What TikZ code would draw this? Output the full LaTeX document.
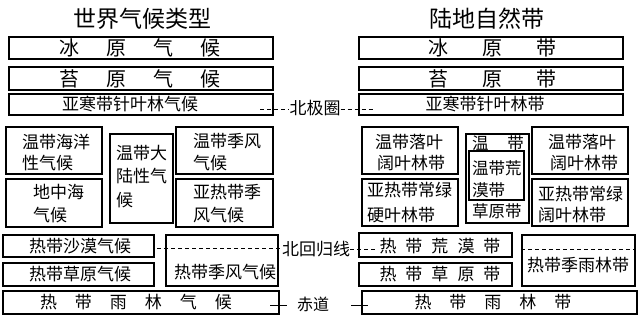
\documentclass[tikz,border=0pt]{standalone}
\usepackage{fontspec}
\newfontfamily\cjk{Noto Sans CJK SC}
\usetikzlibrary{fit,calc}
\begin{document}
\begin{tikzpicture}[x=1pt,y=-1pt,
  box/.style={draw, line width=1.1pt, inner sep=0pt},
  tx/.style={inner sep=0pt, font=\cjk\fontsize{17}{22}\selectfont},
  ml/.style={tx, align=left, anchor=west},
  big/.style={inner sep=0pt, font=\cjk\fontsize{20}{24}\selectfont},
  ttl/.style={inner sep=0pt, font=\cjk\fontsize{23}{28}\selectfont},
  lat/.style={line width=0.8pt, dash pattern=on 4pt off 3pt},
  eq/.style={line width=0.8pt}]
\useasboundingbox[fill=white] (0,0) rectangle (640,316);

% titles
\node[ttl] (t1) at (142,19) {世界气候类型};
\node[ttl] (t2) at (487,19) {陆地自然带};

% left column
\node[box, fit={(9,37) (273,59)}] (L1) {};
\node[big] (L1t) at (140,48) {冰\hspace{27pt}原\hspace{27pt}气\hspace{27pt}候};
\node[box, fit={(9,67) (273,90)}] (L2) {};
\node[big] (L2t) at (140,78.5) {苔\hspace{27pt}原\hspace{27pt}气\hspace{27pt}候};
\node[box, fit={(9,94) (273,115)}] (L3) {};
\node[tx] (L3t) at (130,104.5) {亚寒带针叶林气候};

\node[box, fit={(6,127) (102,174)}] (L4) {};
\node[ml, font=\cjk\fontsize{17}{21}\selectfont] (L4t) at (22,152.5) {温带海洋\\性气候};
\node[box, fit={(6,179) (102,227)}] (L5) {};
\node[ml, font=\cjk\fontsize{17}{23}\selectfont] (L5t) at (33,203.5) {地中海\\气候};
\node[box, fit={(110,134) (173,223)}] (L6) {};
\node[ml, font=\cjk\fontsize{17}{23.5}\selectfont] (L6t) at (116,176.5) {温带大\\陆性气\\候};
\node[box, fit={(176,127) (273,174)}] (L7) {};
\node[ml, font=\cjk\fontsize{17}{22}\selectfont] (L7t) at (193,152) {温带季风\\气候};
\node[box, fit={(176,179) (273,227)}] (L8) {};
\node[ml, font=\cjk\fontsize{17}{23}\selectfont] (L8t) at (193,203.5) {亚热带季\\风气候};

\node[box, fit={(3,235) (154,257)}] (L9) {};
\node[tx] (L9t) at (80,246) {热带沙漠气候};
\node[box, fit={(3,263) (154,286)}] (L10) {};
\node[tx] (L10t) at (80,274.5) {热带草原气候};
\node[box, fit={(166,235) (278,286)}] (L11) {};
\node[tx] (L11t) at (225,272) {热带季风气候};
\node[box, fit={(3,291) (279,314)}] (L12) {};
\node[tx] (L12t) at (136,302.5) {热\hspace{18pt}带\hspace{18pt}雨\hspace{18pt}林\hspace{18pt}气\hspace{18pt}候};

% right column
\node[box, fit={(359,37) (623,59)}] (R1) {};
\node[big] (R1t) at (492.5,48) {冰\hspace{34pt}原\hspace{34pt}带};
\node[box, fit={(359,67) (623,90)}] (R2) {};
\node[big] (R2t) at (492.5,78.5) {苔\hspace{34pt}原\hspace{34pt}带};
\node[box, fit={(359,94) (623,115)}] (R3) {};
\node[tx] (R3t) at (485,104.5) {亚寒带针叶林带};

\node[box, fit={(362,127) (458,174)}] (R4) {};
\node[ml] (R4a) at (375,142) {温带落叶};
\node[ml] (R4b) at (377,163) {阔叶林带};
\node[box, fit={(362,179) (458,226)}] (R5) {};
\node[ml, font=\cjk\fontsize{17}{25}\selectfont] (R5t) at (367,202.5) {亚热带常绿\\硬叶林带};

\node[box, fit={(466,134) (529,223)}] (R6) {};
\node[tx, font=\cjk\fontsize{16.5}{20}\selectfont] (R6a) at (498,143) {温\hspace{19pt}带};
\node[box, fit={(469,151) (524,200)}] (R6i) {};
\node[ml, font=\cjk\fontsize{16.5}{22}\selectfont] (R6b) at (472,179) {温带荒\\漠带};
\node[ml, font=\cjk\fontsize{16.5}{20}\selectfont] (R6c) at (472,211) {草原带};

\node[box, fit={(532,127) (628,174)}] (R7) {};
\node[ml] (R7a) at (548,142) {温带落叶};
\node[ml] (R7b) at (550,163) {阔叶林带};
\node[box, fit={(532,179) (628,226)}] (R8) {};
\node[ml] (R8a) at (538,194) {亚热带常绿};
\node[ml] (R8b) at (538,215) {阔叶林带};

\node[box, fit={(359,233) (512,257)}] (R9) {};
\node[tx] (R9t) at (440,246) {热\hspace{9pt}带\hspace{9pt}荒\hspace{9pt}漠\hspace{9pt}带};
\node[box, fit={(359,263) (512,286)}] (R10) {};
\node[tx] (R10t) at (440,274.5) {热\hspace{9pt}带\hspace{9pt}草\hspace{9pt}原\hspace{9pt}带};
\node[box, fit={(522,235) (635,286)}] (R11) {};
\draw[lat] ($(R11.north west)+(0,15)$) -- ($(R11.north east)+(0,15)$);
\node[tx] (R11t) at (578,265) {热带季雨林带};
\node[box, fit={(362,291) (637,314)}] (R12) {};
\node[tx] (R12t) at (493,302.5) {热\hspace{18pt}带\hspace{18pt}雨\hspace{18pt}林\hspace{18pt}带};

% latitude lines
\node[tx] (arc) at (315,108) {北极圈};
\coordinate (arcL) at (260,109);
\coordinate (arcR) at (373,109);
\draw[lat] (arcL) -- (arc.west |- arcL);
\draw[lat] (arc.east |- arcR) -- (arcR);

\node[tx] (trop) at (316,249) {北回归线};
\coordinate (tropL) at (157,248);
\coordinate (tropR) at (375,249);
\draw[lat] (tropL) -- (trop.west |- tropL);
\draw[lat] (trop.east |- tropR) -- (tropR);

\node[tx, font=\cjk\fontsize{16}{20}\selectfont] (equ) at (313,304) {赤道};
\coordinate (eqL1) at (270,305);
\coordinate (eqL2) at (287,305);
\coordinate (eqR1) at (351,305);
\coordinate (eqR2) at (368,305);
\draw[eq] (eqL1) -- (eqL2);
\draw[eq] (eqR1) -- (eqR2);
\end{tikzpicture}
\end{document}
